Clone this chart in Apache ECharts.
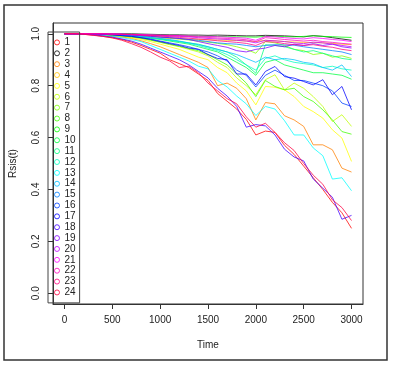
<!DOCTYPE html>
<html>
<head>
<meta charset="utf-8">
<script src="https://cdn.jsdelivr.net/npm/echarts@6/dist/echarts.min.js"></script>
<style>
html,body{margin:0;padding:0;background:#fff;}
#chart{width:395px;height:365px;}
</style>
</head>
<body>
<div id="chart"></div>
<script>
// ---- data ----
const times = [0,100,200,300,400,500,600,700,800,900,1000,1100,1200,1300,1400,1500,1600,1700,1800,1900,2000,2100,2200,2300,2400,2500,2600,2700,2800,2900,3000];
const seriesNames = ['1','2','3','4','5','6','7','8','9','10','11','12','13','14','15','16','17','18','19','20','21','22','23','24'];
const seriesColors = ['#FF0000','#000000','#FF8000','#FFBF00','#FFFF00','#BFFF00','#80FF00','#40FF00','#00FF00','#00FF40','#00FF80','#00FFBF','#00FFFF','#00BFFF','#0080FF','#0040FF','#0000FF','#4000FF','#8000FF','#BF00FF','#FF00FF','#FF00BF','#FF0080','#FF0040'];
const xTickValues = [0,500,1000,1500,2000,2500,3000];
const xTickLabels = ['0','500','1000','1500','2000','2500','3000'];
const yTickValues = [0,0.2,0.4,0.6,0.8,1.0];
const yTickLabels = ['0.0','0.2','0.4','0.6','0.8','1.0'];

const s1  = [1,1,0.998,0.995,0.99,0.985,0.978,0.968,0.955,0.94,0.925,0.9,0.885,0.87,0.845,0.82,0.77,0.74,0.71,0.67,0.61,0.625,0.62,0.57,0.535,0.49,0.445,0.4,0.35,0.31,0.25];
const s2  = [1,1,1,1,1,1,1,1,0.999,0.998,0.997,0.996,0.996,0.995,0.995,0.994,0.995,0.994,0.993,0.992,0.992,0.994,0.993,0.992,0.99,0.988,0.993,0.99,0.985,0.98,0.975];
const s3  = [1,1,0.999,0.997,0.995,0.992,0.988,0.982,0.973,0.962,0.95,0.935,0.92,0.905,0.89,0.87,0.8,0.81,0.79,0.75,0.668,0.735,0.73,0.684,0.668,0.643,0.572,0.572,0.553,0.482,0.467];
const s4  = [1,1,1,0.998,0.994,0.99,0.988,0.986,0.985,0.984,0.983,0.982,0.98,0.979,0.978,0.977,0.976,0.975,0.974,0.972,0.97,0.975,0.973,0.97,0.968,0.967,0.966,0.965,0.963,0.96,0.958];
const s5  = [1,1,1,0.998,0.996,0.994,0.99,0.985,0.978,0.97,0.96,0.95,0.94,0.925,0.91,0.9,0.87,0.85,0.81,0.78,0.726,0.797,0.794,0.784,0.758,0.72,0.7,0.675,0.63,0.598,0.508];
const s6  = [1,1,1,0.999,0.997,0.995,0.992,0.988,0.982,0.975,0.967,0.958,0.95,0.94,0.93,0.915,0.89,0.87,0.83,0.8,0.765,0.823,0.842,0.784,0.81,0.79,0.758,0.72,0.662,0.688,0.643];
const s7  = [1,1,1,1,1,0.999,0.997,0.995,0.993,0.99,0.987,0.984,0.98,0.976,0.972,0.968,0.963,0.958,0.95,0.94,0.925,0.97,0.965,0.955,0.94,0.935,0.92,0.925,0.91,0.915,0.905];
const s8  = [1,1,1,0.999,0.997,0.995,0.992,0.988,0.983,0.976,0.968,0.96,0.952,0.943,0.935,0.92,0.9,0.88,0.845,0.81,0.758,0.82,0.797,0.784,0.79,0.758,0.739,0.707,0.668,0.623,0.613];
const s9  = [1,1,1,1,1,1,0.999,0.998,0.997,0.996,0.995,0.994,0.993,0.992,0.991,0.99,0.99,0.989,0.988,0.988,0.987,0.99,0.99,0.989,0.988,0.99,0.992,0.99,0.989,0.987,0.986];
const s10 = [1,1,1,1,0.999,0.997,0.995,0.992,0.988,0.983,0.978,0.972,0.966,0.96,0.95,0.94,0.93,0.91,0.89,0.87,0.84,0.89,0.9,0.88,0.87,0.86,0.85,0.85,0.845,0.84,0.825];
const s11 = [1,1,1,1,0.999,0.998,0.996,0.994,0.99,0.985,0.98,0.975,0.97,0.965,0.96,0.95,0.94,0.93,0.91,0.88,0.848,0.958,0.955,0.95,0.94,0.93,0.935,0.925,0.915,0.905,0.9];
const s12 = [1,1,1,1,0.999,0.997,0.995,0.993,0.99,0.985,0.98,0.975,0.97,0.963,0.955,0.945,0.935,0.92,0.9,0.88,0.86,0.905,0.915,0.9,0.89,0.885,0.88,0.87,0.875,0.865,0.86];
const s13 = [1,1,0.999,0.997,0.994,0.99,0.985,0.978,0.97,0.955,0.94,0.925,0.91,0.895,0.875,0.865,0.82,0.795,0.76,0.73,0.685,0.72,0.71,0.665,0.61,0.61,0.56,0.53,0.44,0.445,0.395];
const s14 = [1,1,1,1,0.999,0.998,0.996,0.993,0.99,0.986,0.982,0.978,0.972,0.965,0.958,0.95,0.94,0.93,0.92,0.905,0.89,0.91,0.9,0.905,0.9,0.89,0.885,0.87,0.86,0.88,0.835];
const s15 = [1,1,1,1,1,0.999,0.998,0.996,0.994,0.991,0.988,0.985,0.982,0.978,0.975,0.97,0.965,0.962,0.96,0.955,0.95,0.955,0.958,0.957,0.956,0.95,0.945,0.94,0.935,0.93,0.92];
const s16 = [1,1,1,0.999,0.998,0.996,0.993,0.99,0.985,0.98,0.972,0.965,0.958,0.95,0.94,0.93,0.915,0.895,0.86,0.84,0.795,0.84,0.86,0.84,0.82,0.82,0.81,0.8,0.78,0.733,0.72];
const s17 = [1,1,1,0.999,0.998,0.996,0.993,0.99,0.985,0.978,0.97,0.962,0.955,0.945,0.94,0.92,0.905,0.9,0.845,0.845,0.803,0.855,0.874,0.835,0.829,0.816,0.803,0.823,0.765,0.797,0.707];
const s18 = [1,1,0.999,0.996,0.992,0.987,0.98,0.972,0.96,0.945,0.93,0.915,0.9,0.88,0.855,0.83,0.79,0.76,0.72,0.64,0.65,0.645,0.61,0.555,0.525,0.51,0.44,0.405,0.37,0.285,0.3];
const s19 = [1,1,1,1,0.999,0.998,0.997,0.995,0.993,0.99,0.987,0.985,0.982,0.978,0.97,0.962,0.955,0.948,0.935,0.93,0.94,0.945,0.955,0.95,0.96,0.955,0.962,0.955,0.96,0.95,0.945];
const s20 = [1,1,1,1,1,0.999,0.998,0.997,0.996,0.994,0.993,0.991,0.99,0.988,0.985,0.982,0.98,0.978,0.975,0.972,0.965,0.975,0.973,0.97,0.965,0.962,0.968,0.965,0.96,0.955,0.95];
const s21 = [1,1,1,1,1,1,0.999,0.998,0.997,0.996,0.995,0.994,0.993,0.992,0.991,0.99,0.989,0.987,0.985,0.983,0.975,0.99,0.988,0.985,0.982,0.98,0.985,0.982,0.978,0.975,0.97];
const s22 = [1,1,1,1,1,0.999,0.998,0.997,0.996,0.995,0.994,0.993,0.992,0.99,0.988,0.986,0.984,0.982,0.98,0.977,0.97,0.985,0.982,0.978,0.975,0.972,0.975,0.97,0.967,0.963,0.96];
const s23 = [1,1,1,1,1,0.999,0.998,0.997,0.995,0.993,0.991,0.989,0.986,0.983,0.98,0.977,0.973,0.97,0.967,0.963,0.955,0.97,0.968,0.962,0.958,0.955,0.958,0.952,0.948,0.94,0.935];
const s24 = [1,1,0.998,0.994,0.99,0.984,0.975,0.962,0.948,0.93,0.91,0.895,0.87,0.875,0.85,0.81,0.78,0.75,0.73,0.68,0.64,0.655,0.62,0.58,0.55,0.5,0.455,0.42,0.36,0.33,0.28];

const seriesValues = [s1,s2,s3,s4,s5,s6,s7,s8,s9,s10,s11,s12,s13,s14,s15,s16,s17,s18,s19,s20,s21,s22,s23,s24];

// ---- chart ----
const FONT = '"Liberation Sans", Arial, sans-serif';
const chart = echarts.init(document.getElementById('chart'), null, {renderer: 'canvas'});

const series = seriesValues.map((vals, i) => ({
  name: seriesNames[i],
  type: 'line',
  data: times.map((t, j) => [t, vals[j]]),
  showSymbol: false,
  lineStyle: {width: 0.9, color: seriesColors[i], opacity: 0.85},
  itemStyle: {color: seriesColors[i]},
  emphasis: {disabled: true},
  animation: false
}));

const legendData = seriesNames.map((n, i) => ({
  name: n,
  icon: 'circle',
  itemStyle: {color: 'rgba(255,255,255,0)', borderColor: seriesColors[i], borderWidth: 1, opacity: 0.8}
}));

function pick(values, labels) {
  return v => { const k = values.findIndex(t => Math.abs(t - v) < 1e-6); return k >= 0 ? labels[k] : ''; };
}

chart.setOption({
  animation: false,
  backgroundColor: '#ffffff',
  graphic: [{
    type: 'rect',
    shape: {x: 4, y: 5, width: 383, height: 355},
    style: {fill: 'none', stroke: '#333', lineWidth: 1.5},
    silent: true
  }],
  grid: {left: 48, top: 23, width: 315, height: 281, show: true, borderColor: '#333', borderWidth: 1, backgroundColor: 'transparent'},
  legend: {
    orient: 'vertical',
    left: 48, top: 32,
    padding: [5, 4, 5, 6],
    borderColor: '#444', borderWidth: 1,
    itemWidth: 5, itemHeight: 5,
    itemGap: 0,
    data: legendData,
    textStyle: {fontFamily: FONT, fontSize: 10, color: '#222', lineHeight: 10.87},
    selectedMode: false
  },
  xAxis: {
    type: 'value',
    min: -120, max: 3120,
    name: 'Time', nameLocation: 'middle', nameGap: 36,
    nameTextStyle: {fontFamily: FONT, fontSize: 10, color: '#222'},
    axisLine: {show: true, onZero: false, lineStyle: {color: '#333', width: 1}},
    axisTick: {show: true, inside: false, length: 5, lineStyle: {color: '#333'}, customValues: xTickValues},
    axisLabel: {fontFamily: FONT, fontSize: 10, color: '#222', margin: 11, customValues: xTickValues,
      formatter: pick(xTickValues, xTickLabels)},
    splitLine: {show: false}
  },
  yAxis: {
    type: 'value',
    min: -0.0416, max: 1.0416,
    name: 'Rsis(t)', nameLocation: 'middle', nameGap: 35, nameRotate: 90,
    nameTextStyle: {fontFamily: FONT, fontSize: 10, color: '#222'},
    axisLine: {show: true, onZero: false, lineStyle: {color: '#333', width: 1}},
    axisTick: {show: true, inside: false, length: 5, lineStyle: {color: '#333'}, customValues: yTickValues},
    axisLabel: {fontFamily: FONT, fontSize: 10, color: '#222', margin: 12, rotate: 90,
      customValues: yTickValues,
      formatter: pick(yTickValues, yTickLabels)},
    splitLine: {show: false}
  },
  series: series
});
</script>
</body>
</html>
